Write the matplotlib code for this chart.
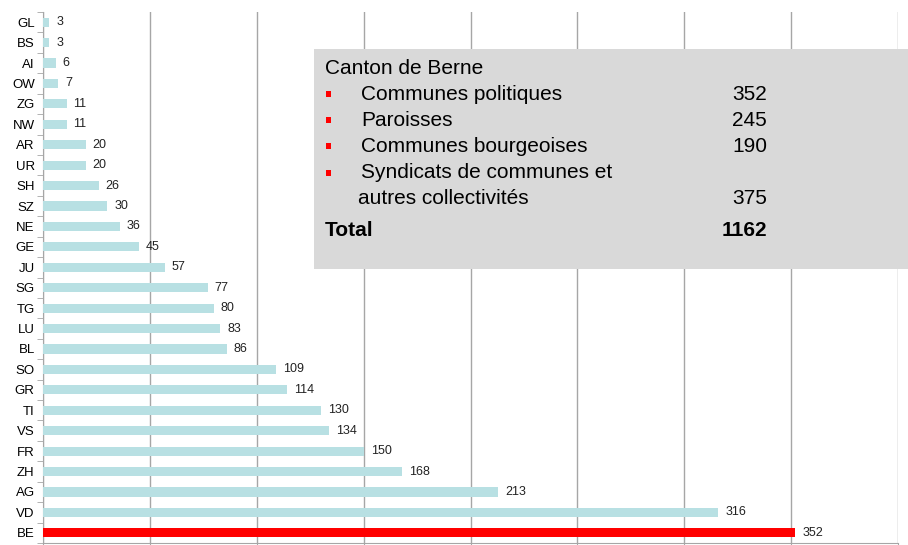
import matplotlib
matplotlib.use('Agg')
from matplotlib import pyplot as plt
from matplotlib.patches import Rectangle
import numpy as np

plt.rcParams['font.family'] = ['Liberation Sans', 'DejaVu Sans']

cantons = ['GL', 'BS', 'AI', 'OW', 'ZG', 'NW', 'AR', 'UR', 'SH', 'SZ', 'NE', 'GE', 'JU',
           'SG', 'TG', 'LU', 'BL', 'SO', 'GR', 'TI', 'VS', 'FR', 'ZH', 'AG', 'VD', 'BE']
communes = [3, 3, 6, 7, 11, 11, 20, 20, 26, 30, 36, 45, 57,
            77, 80, 83, 86, 109, 114, 130, 134, 150, 168, 213, 316, 352]

box_labels = ['Communes politiques', 'Paroisses', 'Communes bourgeoises',
              'Syndicats de communes et\nautres collectivités']
box_values = [352, 245, 190, 375]
box_total = 1162

W, H = 908, 545
fig = plt.figure(figsize=(W / 100, H / 100), dpi=100)

# axes box in pixels (from the reference)
left, right, top, bottom = 43, 898, 12, 543
ax = fig.add_axes([left / W, (H - bottom) / H, (right - left) / W, (bottom - top) / H])

names = cantons[::-1]
vals = communes[::-1]
y = np.arange(len(names))
colors = ['#ff0000' if n == 'BE' else '#b8e0e3' for n in names]
ax.barh(y, vals, height=0.45, color=colors, zorder=3)

for yi, v in zip(y, vals):
    ax.annotate(str(v), (v, yi), xytext=(5, 0), textcoords='offset points',
                va='center', ha='left', fontsize=9, color='#222222')

ax.set_xlim(0, 400)
ax.set_ylim(-0.5, len(names) - 0.5)
ax.set_xticks(np.arange(0, 401, 50))
ax.set_xticklabels([])
ax.grid(axis='x', color='#a6a6a6', linewidth=1, zorder=0)

ax.set_yticks(y)
ax.set_yticklabels(names, fontsize=9.5)
ax.set_yticks(np.arange(-0.5, len(names), 1), minor=True)
ax.tick_params(axis='y', which='major', length=0, pad=6)
ax.tick_params(axis='y', which='minor', length=4, color='#a6a6a6')
ax.tick_params(axis='x', which='major', length=4, color='#a6a6a6')

for s in ['top', 'right']:
    ax.spines[s].set_visible(False)
for s in ['left', 'bottom']:
    ax.spines[s].set_color('#a6a6a6')

# summary box for the canton of Bern
fig.patches.append(Rectangle((314 / W, (H - 269) / H), (908 - 314) / W, (269 - 49) / H,
                             transform=fig.transFigure, facecolor='#d9d9d9',
                             edgecolor='none', zorder=5))

def fx(px):
    return px / W

def fy(py):
    return (H - py) / H

fig.text(fx(325), fy(68), 'Canton de Berne', fontsize=15, va='center', ha='left', zorder=6)
rows_y = [94, 120, 146, 173]
for ry, lab, val in zip(rows_y, box_labels, box_values):
    # small red bullet
    fig.patches.append(Rectangle((fx(326), fy(ry + 3)), 5 / W, 6 / H,
                                 transform=fig.transFigure, facecolor='#ff0000',
                                 edgecolor='none', zorder=6))
    parts = lab.split('\n')
    fig.text(fx(361), fy(ry), parts[0], fontsize=15, va='center', ha='left', zorder=6)
    if len(parts) > 1:
        fig.text(fx(358), fy(ry + 26), parts[1], fontsize=15, va='center', ha='left', zorder=6)
        fig.text(fx(767), fy(ry + 26), str(val), fontsize=15, va='center', ha='right', zorder=6)
    else:
        fig.text(fx(767), fy(ry), str(val), fontsize=15, va='center', ha='right', zorder=6)
fig.text(fx(325), fy(230), 'Total', fontsize=15, fontweight='bold', va='center',
         ha='left', zorder=6)
fig.text(fx(767), fy(230), str(box_total), fontsize=15, fontweight='bold', va='center',
         ha='right', zorder=6)

fig.savefig('out.png', dpi=100)
